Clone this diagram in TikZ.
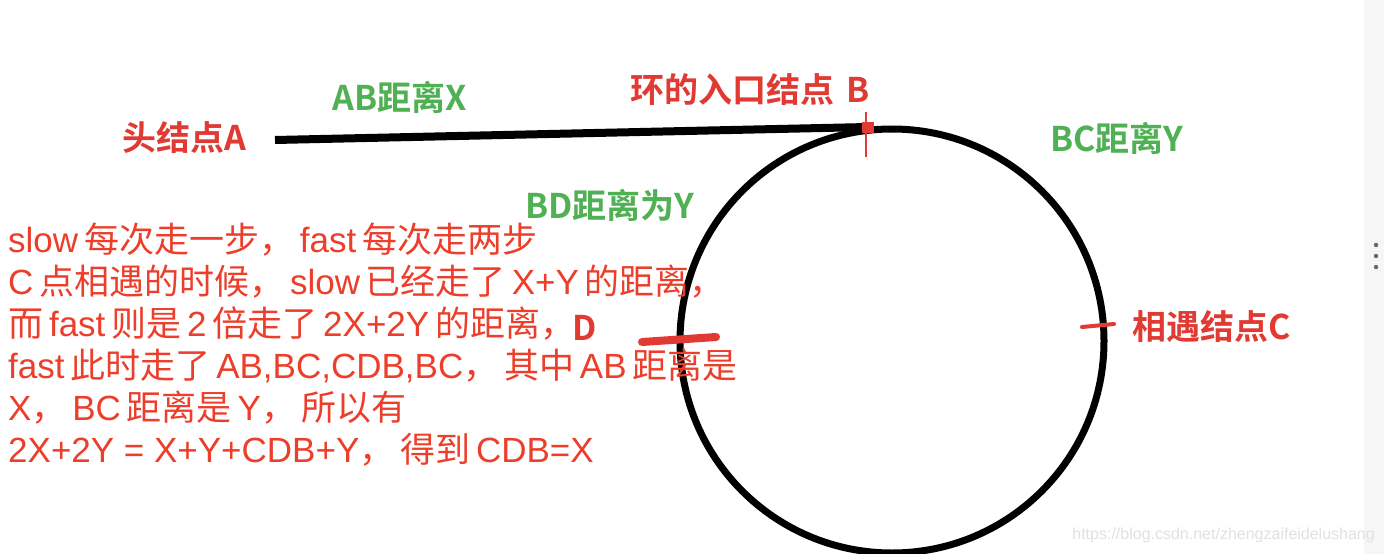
\documentclass[tikz,border=0pt]{standalone}
\usepackage{fontspec}
\setmainfont{Noto Sans CJK SC}
\newfontfamily\cjkb{Noto Sans CJK SC Bold}
\newfontfamily\wmfont{Liberation Sans}
\newfontfamily\latf{Liberation Sans}
\newcommand{\la}[1]{{\latf #1}}
\definecolor{txtred}{RGB}{236,62,42}
\definecolor{lblred}{RGB}{224,58,50}
\definecolor{lblgreen}{RGB}{80,176,84}
\definecolor{strip}{RGB}{245,246,248}
\definecolor{wm}{RGB}{225,225,225}
\begin{document}
\begin{tikzpicture}[x=1pt,y=-1pt,
  body/.style={anchor=base west, inner sep=0pt, text=txtred, font=\fontsize{35}{37}\selectfont},
  redlbl/.style={inner sep=0pt, text=lblred, font=\cjkb\fontsize{34}{36}\selectfont},
  greenlbl/.style={inner sep=0pt, text=lblgreen, font=\cjkb\fontsize{34}{36}\selectfont}]
\useasboundingbox (0,0) rectangle (1384,554);
\fill[white] (0,0) rectangle (1384,554);
\fill[strip] (1364,0) rectangle (1384,554);
\foreach \yy in {245,256,267} \fill[gray!80!black] (1376,\yy) circle (2.2);
% path and ring
\coordinate (Aend) at (275,140);
\coordinate (B) at (868,127);
\draw[line width=8] (Aend) -- (B);
\draw[line width=7] (892,341) circle (212);
% markers
\draw[lblred, line width=1.5] (866,112) -- (866,157);
\fill[lblred] (862,122) rectangle (874,133);
\coordinate (C1) at (1082,327);
\coordinate (C2) at (1114,324);
\draw[lblred, line width=4, line cap=round] (C1) -- (C2);
\coordinate (D1) at (642,342);
\coordinate (D2) at (716,337);
\draw[lblred, line width=8, line cap=round] (D1) -- (D2);
% labels
\node[redlbl] (lA) at (184,138) {头结点A};
\node[greenlbl] (lAB) at (400,97) {AB距离X};
\node[redlbl, anchor=west] (lB) at (630,90) {环的入口结点\hspace{0.35em}B};
\node[greenlbl, anchor=west] (lBC) at (1050,138) {BC距离Y};
\node[greenlbl, anchor=west] (lBD) at (525,205) {BD距离为Y};
\node[redlbl, anchor=west] (lC) at (1132,327) {相遇结点C};
\node[redlbl] (lD) at (585,328) {D};
% body text
\node[body] (t1) at (8,252) {\la{slow}\,每次走一步，\,\la{fast}\,每次走两步};
\node[body] (t2) at (8,294) {\la{C}\,点相遇的时候，\,\la{slow}\,已经走了\,\la{X+Y}\,的距离，};
\node[body] (t3) at (8,336) {而\,\la{fast}\,则是\,\la{2}\,倍走了\,\la{2X+2Y}\,的距离，};
\node[body] (t4) at (8,378) {\la{fast}\,此时走了\,\la{AB,BC,CDB,BC}，\,其中\,\la{AB}\,距离是};
\node[body] (t5) at (8,420) {\la{X}，\,\la{BC}\,距离是\,\la{Y}，\,所以有};
\node[body] (t6) at (8,462) {\la{2X+2Y = X+Y+CDB+Y}，\,得到\,\la{CDB=X}};
% watermark
\node[inner sep=0pt, anchor=east, text=wm, font=\wmfont\fontsize{16}{18}\selectfont] (wmk) at (1375,535) {https://blog.csdn.net/zhengzaifeidelushang};
\end{tikzpicture}
\end{document}
